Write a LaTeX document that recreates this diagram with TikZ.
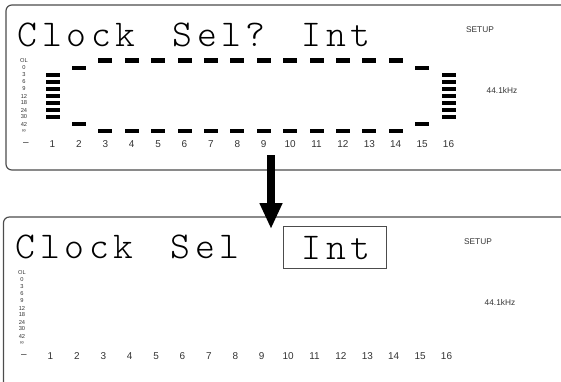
\documentclass[tikz,border=0pt]{standalone}
\usepackage{fontspec}
\newfontfamily\lcdfont{lmmonolt10-regular.otf}[LetterSpace=12]
\newfontfamily\panelfont{Liberation Sans}
\usepackage{tikz}
\usetikzlibrary{positioning, arrows.meta}
\definecolor{panelgray}{gray}{0.3}
\definecolor{labelgray}{gray}{0.2}
\newcommand{\segment}[2]
{
	\fill ({#1-7}, {#2-2.3}) rectangle ({#1+7}, {#2+2.3})
}

\begin{document}
\begin{tikzpicture}[x=0.03cm, y=-0.03cm,
	panel/.style={draw=panelgray, line width=1pt, rounded corners=5pt},
	lcd/.style={font=\lcdfont\fontsize{32.3pt}{34pt}\selectfont, inner sep=0pt, anchor=base west},
	scalelabel/.style={font=\panelfont\fontsize{4.9pt}{5pt}\selectfont, text=labelgray, inner sep=0pt},
	chlabel/.style={font=\panelfont\fontsize{8.5pt}{10pt}\selectfont, text=labelgray, inner sep=0pt},
	infolabel/.style={font=\panelfont\fontsize{7.1pt}{8pt}\selectfont, text=labelgray, inner sep=0pt}]
	\useasboundingbox (0,0) rectangle (561,381);
	\clip (0,0) rectangle (561,381);
	% display frames
	\draw[panel] (6,5) rectangle (568,170);
	\draw[panel] (3.5,217) rectangle (568,395);
	% scale, channel numbers and status
	\foreach \p/\dx/\dy in {t/0/0, b/-2/212} {
		\begin{scope}[shift={(\dx,\dy)}]
			\foreach \lab [count=\i from 0] in {OL,0,3,6,9,12,18,24,30,42,∞}
				\node[scalelabel] (\p-lv\i) at (24, 61+7*\i) {\lab};
			\node[chlabel] (\p-dash) at (26, 144) {–};
			\foreach \n in {1,...,16}
				\node[chlabel] (\p-ch\n) at (52.5+26.4*\n-26.4, 144) {\n};
			\node[infolabel] (\p-setup) at (480, 30) {SETUP};
			\node[infolabel] (\p-rate) at (502, 90) {44.1kHz};
		\end{scope}
	}
	% meter segments
	\foreach \n in {3,...,14} {
		\pgfmathsetmacro{\bx}{52.5+26.4*(\n-1)};
		\segment{\bx}{60.5};
		\segment{\bx}{131};
	};
	\foreach \n in {2,15} {
		\pgfmathsetmacro{\bx}{52.5+26.4*(\n-1)};
		\segment{\bx}{68};
		\segment{\bx}{124};
	};
	\foreach \n in {1,16} {
		\pgfmathsetmacro{\bx}{52.5+26.4*(\n-1)};
		\foreach \k in {0,...,6}
			\segment{\bx}{75+7*\k};
	};
	% lcd text
	\node[lcd] (t-clock) at (17.7, 46) {Clock};
	\node[lcd] (t-sel) at (172.5, 46) {Sel?};
	\node[lcd] (t-int) at (301.5, 46) {Int};
	\node[lcd] (b-clock) at (15.7, 258) {Clock};
	\node[lcd] (b-sel) at (170.5, 258) {Sel};
	\node[lcd] (b-int) at (301.5, 259) {Int};
	\node[draw=panelgray, line width=0.8pt, minimum width=3.1cm, minimum height=1.27cm, anchor=north west, inner sep=0pt] (b-intbox) at (282.7, 226) {};
	% arrow between the two states
	\coordinate (a-start) at (271, 155);
	\coordinate (a-end) at (271, 229);
	\draw[line width=6.8pt, -{Triangle[width=18pt, length=22pt]}] (a-start) -- (a-end);
\end{tikzpicture}
\end{document}
